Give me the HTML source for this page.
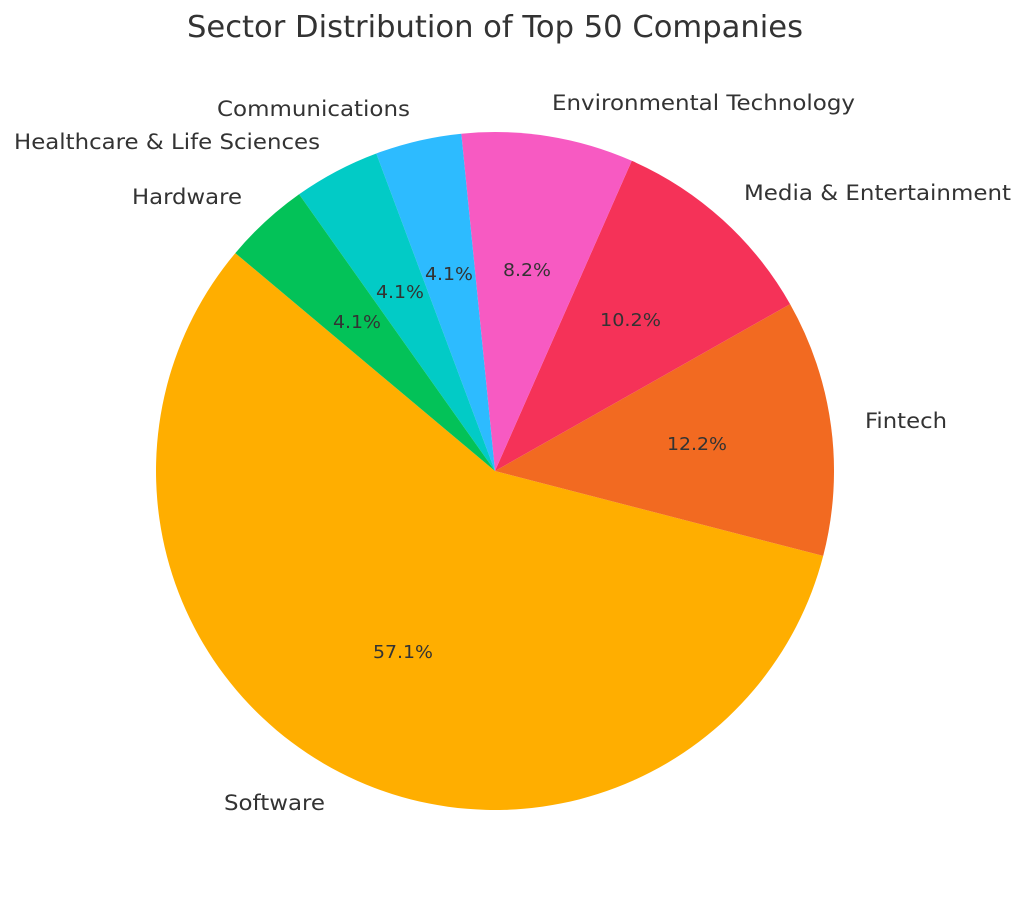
<!DOCTYPE html>
<html><head><meta charset="utf-8"><style>
html,body{margin:0;padding:0;background:#fff;}
svg{display:block;}
text{font-family:"DejaVu Sans","Liberation Sans",sans-serif;fill:#333;}
</style></head><body>
<svg width="1024" height="909" viewBox="0 0 1024 909" xmlns="http://www.w3.org/2000/svg">
<rect width="1024" height="909" fill="#fff"/>
<text x="187" y="37" font-size="30" textLength="616" lengthAdjust="spacingAndGlyphs">Sector Distribution of Top 50 Companies</text>
<g>
<path d="M495,471 L235.3,253.1 A339,339 0 1 0 823.2,555.9 Z" fill="#FFAE00"/>
<path d="M495,471 L823.2,555.9 A339,339 0 0 0 790.1,304.1 Z" fill="#F26A21"/>
<path d="M495,471 L790.1,304.1 A339,339 0 0 0 631.8,160.8 Z" fill="#F53258"/>
<path d="M495,471 L631.8,160.8 A339,339 0 0 0 461.3,133.7 Z" fill="#F75AC2"/>
<path d="M495,471 L461.3,133.7 A339,339 0 0 0 376.3,153.5 Z" fill="#2DBBFF"/>
<path d="M495,471 L376.3,153.5 A339,339 0 0 0 299.1,194.3 Z" fill="#02CBC6"/>
<path d="M495,471 L299.1,194.3 A339,339 0 0 0 235.3,253.1 Z" fill="#03C258"/>
</g>
<g font-size="18" lengthAdjust="spacingAndGlyphs">
<text x="373" y="658" textLength="60" lengthAdjust="spacingAndGlyphs">57.1%</text>
<text x="667" y="450" textLength="60" lengthAdjust="spacingAndGlyphs">12.2%</text>
<text x="600" y="326" textLength="61" lengthAdjust="spacingAndGlyphs">10.2%</text>
<text x="503" y="276" textLength="48" lengthAdjust="spacingAndGlyphs">8.2%</text>
<text x="425" y="280" textLength="48" lengthAdjust="spacingAndGlyphs">4.1%</text>
<text x="376" y="298" textLength="48" lengthAdjust="spacingAndGlyphs">4.1%</text>
<text x="333" y="328" textLength="48" lengthAdjust="spacingAndGlyphs">4.1%</text>
</g>
<g font-size="21">
<text x="224" y="810" textLength="101" lengthAdjust="spacingAndGlyphs">Software</text>
<text x="865" y="428" textLength="82" lengthAdjust="spacingAndGlyphs">Fintech</text>
<text x="744" y="200" textLength="267" lengthAdjust="spacingAndGlyphs">Media &amp; Entertainment</text>
<text x="552" y="110" textLength="303" lengthAdjust="spacingAndGlyphs">Environmental Technology</text>
<text x="217" y="116" textLength="193" lengthAdjust="spacingAndGlyphs">Communications</text>
<text x="14" y="149" textLength="306" lengthAdjust="spacingAndGlyphs">Healthcare &amp; Life Sciences</text>
<text x="132" y="204" textLength="110" lengthAdjust="spacingAndGlyphs">Hardware</text>
</g>
</svg>
</body></html>
